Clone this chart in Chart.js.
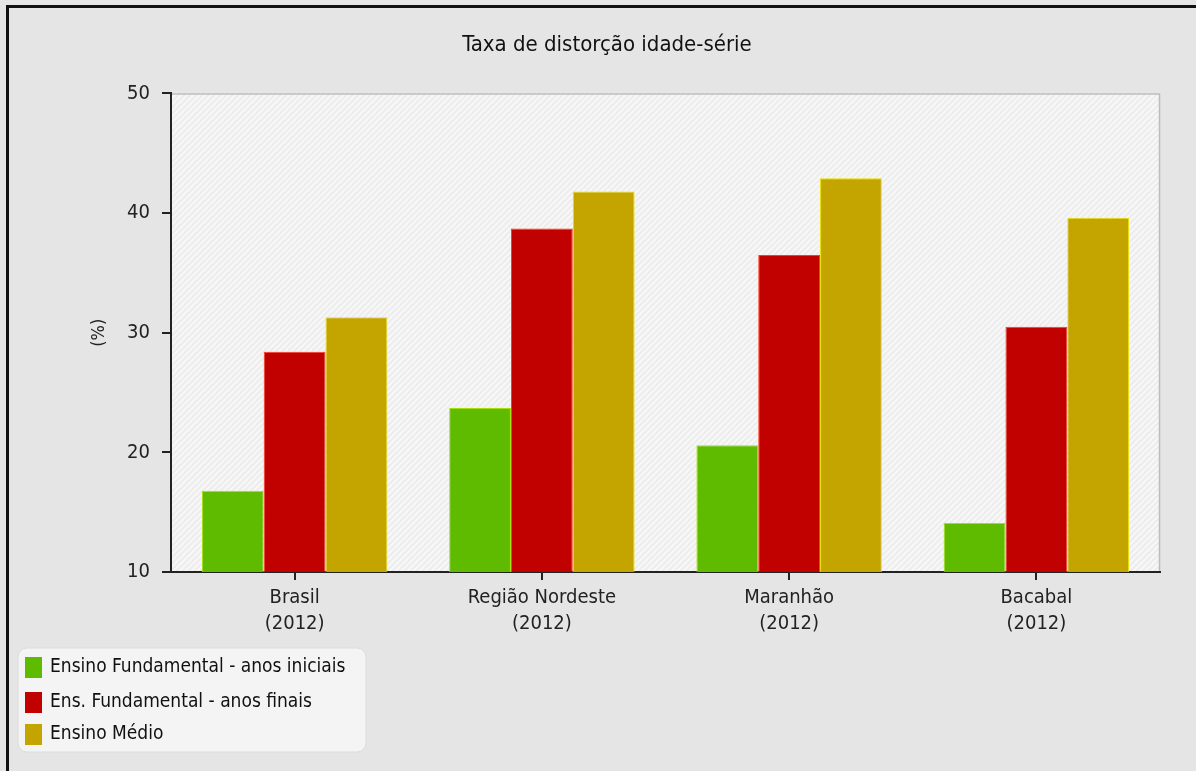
<!DOCTYPE html>
<html>
<head>
<meta charset="utf-8">
<script src="https://cdn.jsdelivr.net/npm/chart.js@4/dist/chart.umd.min.js"></script>
<style>
  html, body { margin: 0; padding: 0; background: #e5e5e5; }
  #wrap { position: relative; width: 1196px; height: 771px; }
  canvas { display: block; }
</style>
</head>
<body>
<div id="wrap"><canvas id="c" width="1196" height="771"></canvas></div>
<script>
const titleText = 'Taxa de distorção idade-série';
const yAxisTitle = '(%)';
const categories = [['Brasil', '(2012)'], ['Região Nordeste', '(2012)'], ['Maranhão', '(2012)'], ['Bacabal', '(2012)']];
const seriesNames = ['Ensino Fundamental - anos iniciais', 'Ens. Fundamental - anos finais', 'Ensino Médio'];
const anosIniciais = [16.8, 23.7, 20.6, 14.1];
const anosFinais = [28.4, 38.7, 36.5, 30.5];
const ensinoMedio = [31.3, 41.8, 42.9, 39.6];
const yTicks = [10, 20, 30, 40, 50];

const FONT = "'DejaVu Sans Condensed', 'DejaVu Sans', sans-serif";
const fills = ['#5fbb00', '#c10000', '#c4a500'];
const edges = ['#a6e000', '#ff3a1a', '#e8e000'];

const bgPlugin = {
  id: 'bg',
  beforeDraw(chart) {
    const ctx = chart.ctx, a = chart.chartArea;
    ctx.save();
    ctx.fillStyle = '#e5e5e5';
    ctx.fillRect(0, 0, chart.width, chart.height);
    // outer frame (left + top)
    ctx.fillStyle = '#111';
    ctx.fillRect(6, 5, 3, chart.height - 5);
    ctx.fillRect(6, 5, chart.width - 6, 3);
    // plot background with hatch
    ctx.fillStyle = '#ededed';
    ctx.fillRect(a.left, a.top, a.right - a.left, a.bottom - a.top);
    ctx.beginPath();
    ctx.rect(a.left, a.top, a.right - a.left, a.bottom - a.top);
    ctx.clip();
    ctx.strokeStyle = '#f8f8f8';
    ctx.lineWidth = 2;
    const h = a.bottom - a.top;
    for (let x = a.left - h; x < a.right + 10; x += 6) {
      ctx.beginPath();
      ctx.moveTo(x, a.bottom);
      ctx.lineTo(x + h, a.top);
      ctx.stroke();
    }
    ctx.restore();
    ctx.save();
    ctx.strokeStyle = '#bdbdbd';
    ctx.lineWidth = 1.5;
    ctx.beginPath();
    ctx.moveTo(a.left, a.top + 0.5);
    ctx.lineTo(a.right - 0.5, a.top + 0.5);
    ctx.lineTo(a.right - 0.5, a.bottom);
    ctx.stroke();
    ctx.restore();
  }
};

const legendPlugin = {
  id: 'boxLegend',
  afterDraw(chart) {
    const ctx = chart.ctx;
    const x0 = 18, y0 = 648, w = 348, h = 104, r = 9;
    ctx.save();
    ctx.fillStyle = '#f4f4f4';
    ctx.strokeStyle = '#dcdcdc';
    ctx.lineWidth = 1;
    ctx.beginPath();
    ctx.roundRect(x0, y0, w, h, r);
    ctx.fill();
    ctx.stroke();
    ctx.font = '19px ' + FONT;
    ctx.textBaseline = 'middle';
    const rows = [667, 702, 734];
    chart.data.datasets.forEach((ds, i) => {
      ctx.fillStyle = ds.backgroundColor;
      ctx.fillRect(25, rows[i] - 10, 17, 21);
      ctx.fillStyle = '#111';
      ctx.fillText(ds.label, 50, rows[i]);
    });
    ctx.restore();
  }
};

const datasets = [anosIniciais, anosFinais, ensinoMedio].map((vals, i) => ({
  label: seriesNames[i],
  data: vals,
  backgroundColor: fills[i],
  borderColor: edges[i],
  borderWidth: {top: 1, left: 1, right: 1, bottom: 0},
  borderSkipped: 'bottom',
  barPercentage: 1.0,
  categoryPercentage: 0.75
}));

new Chart(document.getElementById('c'), {
  type: 'bar',
  data: { labels: categories, datasets },
  options: {
    responsive: false,
    animation: false,
    layout: { padding: { left: 54, right: 36, top: 0, bottom: 0 } },
    plugins: {
      legend: { display: false },
      tooltip: { enabled: false },
      title: {
        display: true,
        text: titleText,
        color: '#111',
        font: { family: FONT, size: 22, weight: 'normal', lineHeight: 1.2 },
        padding: { top: 32, bottom: 35 }
      }
    },
    scales: {
      x: {
        grid: { display: true, drawOnChartArea: false, drawTicks: true, tickLength: 8, offset: false, color: '#222', lineWidth: 2 },
        border: { display: true, color: '#222', width: 2, dash: [5, 2] },
        ticks: { color: '#222', font: { family: FONT, size: 20, lineHeight: 1.3 }, padding: 5, maxRotation: 0, autoSkip: false },
        afterFit(scale) { scale.height = 199; }
      },
      y: {
        min: 10, max: 50,
        afterBuildTicks(scale) { scale.ticks = yTicks.map(v => ({ value: v })); },
        grid: { display: true, drawOnChartArea: false, drawTicks: true, tickLength: 9, color: '#222', lineWidth: 2 },
        border: { display: true, color: '#222', width: 2 },
        ticks: { color: '#222', font: { family: FONT, size: 20 }, padding: 12 },
        title: { display: true, text: yAxisTitle, color: '#222', font: { family: FONT, size: 18, lineHeight: 1.2 }, padding: { top: 35, bottom: 0 } },
        afterFit(scale) { scale.width = 117; }
      }
    }
  },
  plugins: [bgPlugin, legendPlugin]
});
</script>
</body>
</html>
